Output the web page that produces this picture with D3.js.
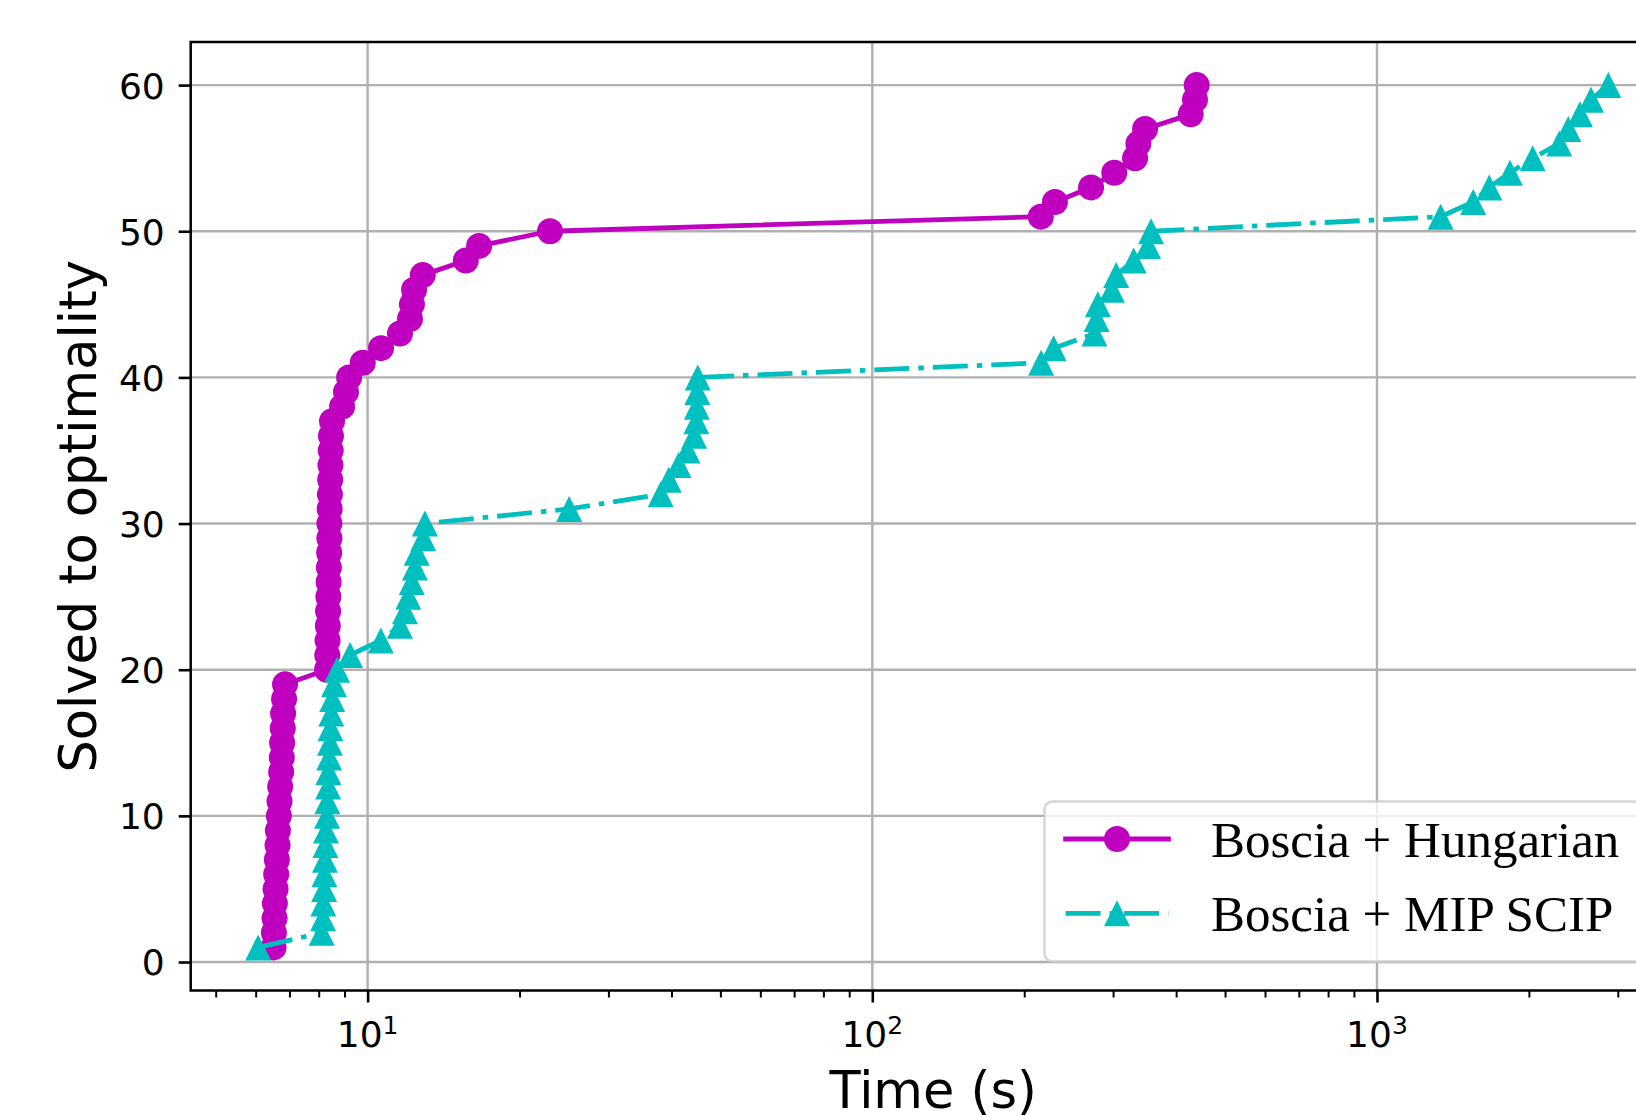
<!DOCTYPE html>
<html lang="en">
<head>
<meta charset="utf-8" />
<title>Solved to optimality</title>
<style>
    body { margin: 0; background: #fff; }
    svg { display: block; }
    svg text { font-family: "DejaVu Sans", sans-serif; fill: #000; }
    .legend text { font-family: "Liberation Serif", serif; }
</style>
<script src="https://cdn.jsdelivr.net/npm/d3@7/dist/d3.min.js"></script>
</head>
<body>
<script>
// number of instances solved (y) for each sorted solve time (x, seconds)
var solved = [1, 2, 3, 4, 5, 6, 7, 8, 9, 10, 11, 12, 13, 14, 15, 16, 17, 18, 19, 20,
              21, 22, 23, 24, 25, 26, 27, 28, 29, 30, 31, 32, 33, 34, 35, 36, 37, 38, 39, 40,
              41, 42, 43, 44, 45, 46, 47, 48, 49, 50, 51, 52, 53, 54, 55, 56, 57, 58, 59, 60];

var timeHungarian = [6.51, 6.52, 6.54, 6.55, 6.57, 6.59, 6.61, 6.63, 6.64, 6.67,
                     6.69, 6.71, 6.74, 6.76, 6.77, 6.79, 6.80, 6.83, 6.86, 8.31,
                     8.32, 8.33, 8.34, 8.35, 8.36, 8.37, 8.38, 8.39, 8.40, 8.40,
                     8.41, 8.42, 8.43, 8.44, 8.45, 8.46, 8.50, 8.90, 9.06, 9.19,
                     9.78, 10.63, 11.59, 12.13, 12.24, 12.36, 12.86, 15.65, 16.63, 22.98,
                     215.7, 230.1, 271.3, 301.6, 331.6, 336.7, 347.1, 427.4, 435.9, 439.3];

var timeScip = [6.07, 8.11, 8.16, 8.17, 8.20, 8.21, 8.23, 8.25, 8.27, 8.31,
                8.32, 8.35, 8.36, 8.39, 8.42, 8.44, 8.47, 8.51, 8.58, 8.70,
                9.23, 10.62, 11.59, 11.86, 12.04, 12.23, 12.41, 12.51, 12.89, 12.99,
                25.08, 38.08, 39.51, 41.32, 43.03, 44.37, 44.8, 44.9, 45.0, 45.1,
                216.0, 228.7, 275.5, 278.3, 279.9, 298.3, 304.3, 329.6, 351.9, 356.7,
                1337, 1551, 1669, 1834, 2035, 2297, 2393, 2524, 2655, 2873];

var seriesNames = ['Boscia + Hungarian', 'Boscia + MIP SCIP'];
var majorTicksX = [10, 100, 1000];
var tickExponents = ['1', '2', '3'];
var minorTicksX = [5, 6, 7, 8, 9, 20, 30, 40, 50, 60, 70, 80, 90,
                   200, 300, 400, 500, 600, 700, 800, 900, 2000, 3000];
var ticksY = [0, 10, 20, 30, 40, 50, 60];

var width = 1636,
    height = 1115,
    plotLeft = 190.7,
    plotRight = 1675.8,
    plotTop = 42,
    plotBottom = 990.5;

var magenta = '#bf00bf',
    cyan = '#00bfbf',
    gridColor = '#b0b0b0',
    lineWidth = 4.8;

// matplotlib-like 5% margins (in log space for x)
var allTimes = timeHungarian.concat(timeScip);
var lo = Math.log10(d3.min(allTimes)),
    hi = Math.log10(d3.max(allTimes)),
    padX = (hi - lo) * 0.05;
var padY = (d3.max(solved) - d3.min(solved)) * 0.05;

var x = d3.scaleLog()
    .domain([Math.pow(10, lo - padX), Math.pow(10, hi + padX)])
    .range([plotLeft, plotRight]);

var y = d3.scaleLinear()
    .domain([d3.min(solved) - padY, d3.max(solved) + padY])
    .range([plotBottom, plotTop]);

var svg = d3.select('body')
    .append('svg')
    .attr('width', width)
    .attr('height', height);

svg.append('defs').append('clipPath')
    .attr('id', 'plot-clip')
    .append('rect')
    .attr('x', plotLeft)
    .attr('y', plotTop)
    .attr('width', plotRight - plotLeft)
    .attr('height', plotBottom - plotTop);

// grid
var grid = svg.append('g');
grid.selectAll('.gx')
    .data(majorTicksX)
    .enter()
    .append('line')
    .attr('x1', function(d) { return x(d); })
    .attr('x2', function(d) { return x(d); })
    .attr('y1', plotTop)
    .attr('y2', plotBottom)
    .attr('stroke', gridColor)
    .attr('stroke-width', 2.4);
grid.selectAll('.gy')
    .data(ticksY)
    .enter()
    .append('line')
    .attr('x1', plotLeft)
    .attr('x2', plotRight)
    .attr('y1', function(d) { return y(d); })
    .attr('y2', function(d) { return y(d); })
    .attr('stroke', gridColor)
    .attr('stroke-width', 2.4);

// series
var line = d3.line()
    .x(function(d) { return x(d[0]); })
    .y(function(d) { return y(d[1]); });

var series = [
    {name: seriesNames[0], times: timeHungarian, color: magenta, dash: null, marker: 'circle'},
    {name: seriesNames[1], times: timeScip, color: cyan, dash: '35,9,5.5,9', marker: 'triangle'}
];

var trianglePath = 'M0,-13L-13,13L13,13Z';

var plot = svg.append('g').attr('clip-path', 'url(#plot-clip)');

series.forEach(function(s) {
    var pts = s.times.map(function(t, i) { return [t, solved[i]]; });
    var g = plot.append('g');

    g.append('path')
        .datum(pts)
        .attr('d', line)
        .attr('fill', 'none')
        .attr('stroke', s.color)
        .attr('stroke-width', lineWidth)
        .attr('stroke-linejoin', 'round')
        .attr('stroke-linecap', s.dash ? 'butt' : 'square')
        .attr('stroke-dasharray', s.dash);

    if (s.marker === 'circle') {
        g.selectAll('circle')
            .data(pts)
            .enter()
            .append('circle')
            .attr('cx', function(d) { return x(d[0]); })
            .attr('cy', function(d) { return y(d[1]); })
            .attr('r', 13)
            .attr('fill', s.color);
    } else {
        g.selectAll('path.m')
            .data(pts)
            .enter()
            .append('path')
            .attr('class', 'm')
            .attr('d', trianglePath)
            .attr('transform', function(d) { return 'translate(' + x(d[0]) + ',' + y(d[1]) + ')'; })
            .attr('fill', s.color);
    }
});

// axes
var xMajor = svg.append('g')
    .attr('transform', 'translate(0,' + plotBottom + ')')
    .call(d3.axisBottom(x).tickValues(majorTicksX).tickSize(12).tickFormat(''));
var xMinor = svg.append('g')
    .attr('transform', 'translate(0,' + plotBottom + ')')
    .call(d3.axisBottom(x).tickValues(minorTicksX).tickSize(7).tickFormat(''));
var yAxis = svg.append('g')
    .attr('transform', 'translate(' + plotLeft + ',0)')
    .call(d3.axisLeft(y).tickValues(ticksY).tickSize(12).tickPadding(14));

[xMajor, xMinor, yAxis].forEach(function(a) {
    a.select('.domain').remove();
});
xMajor.selectAll('.tick line').attr('stroke', '#000').attr('stroke-width', 2.6);
xMinor.selectAll('.tick line').attr('stroke', '#000').attr('stroke-width', 2);
yAxis.selectAll('.tick line').attr('stroke', '#000').attr('stroke-width', 2.6);
yAxis.selectAll('.tick text')
    .attr('font-size', 36)
    .attr('font-family', '"DejaVu Sans", sans-serif')
    .attr('dy', '0.36em')
    .attr('fill', '#000');

// x tick labels with superscript exponent
var xLabels = svg.append('g');
majorTicksX.forEach(function(t, i) {
    var tx = xLabels.append('text')
        .attr('x', x(t))
        .attr('y', 1047)
        .attr('text-anchor', 'middle')
        .attr('font-size', 36);
    tx.append('tspan').text('10');
    tx.append('tspan')
        .attr('font-size', 25)
        .attr('dy', -13)
        .text(tickExponents[i]);
});

// spines
var spines = svg.append('g')
    .attr('fill', 'none')
    .attr('stroke', '#000')
    .attr('stroke-width', 2.5);
spines.append('rect')
    .attr('x', plotLeft)
    .attr('y', plotTop)
    .attr('width', plotRight - plotLeft)
    .attr('height', plotBottom - plotTop)
    .attr('stroke-linejoin', 'miter');

// axis titles
svg.append('text')
    .attr('x', (plotLeft + plotRight) / 2)
    .attr('y', 1108)
    .attr('text-anchor', 'middle')
    .attr('font-size', 51)
    .text('Time (s)');

svg.append('text')
    .attr('transform', 'translate(96,' + (plotTop + plotBottom) / 2 + ') rotate(-90)')
    .attr('text-anchor', 'middle')
    .attr('font-size', 51)
    .text('Solved to optimality');

// legend
var legend = svg.append('g').attr('class', 'legend');
legend.append('rect')
    .attr('x', 1044.5)
    .attr('y', 801.5)
    .attr('width', 610)
    .attr('height', 160)
    .attr('rx', 8)
    .attr('fill', '#fff')
    .attr('fill-opacity', 0.8)
    .attr('stroke', '#cccccc')
    .attr('stroke-opacity', 0.8)
    .attr('stroke-width', 2.5);

series.forEach(function(s, i) {
    var cy = 839 + i * 74.3;
    legend.append('line')
        .attr('x1', 1065.6)
        .attr('x2', 1168.4)
        .attr('y1', cy)
        .attr('y2', cy)
        .attr('stroke', s.color)
        .attr('stroke-width', lineWidth)
        .attr('stroke-linecap', s.dash ? 'butt' : 'square')
        .attr('stroke-dasharray', s.dash);
    if (s.marker === 'circle') {
        legend.append('circle')
            .attr('cx', 1117)
            .attr('cy', cy)
            .attr('r', 13)
            .attr('fill', s.color);
    } else {
        legend.append('path')
            .attr('d', trianglePath)
            .attr('transform', 'translate(1117,' + cy + ')')
            .attr('fill', s.color);
    }
    legend.append('text')
        .attr('x', 1211)
        .attr('y', cy + 18)
        .attr('font-size', 51)
        .text(s.name);
});
</script>
</body>
</html>
